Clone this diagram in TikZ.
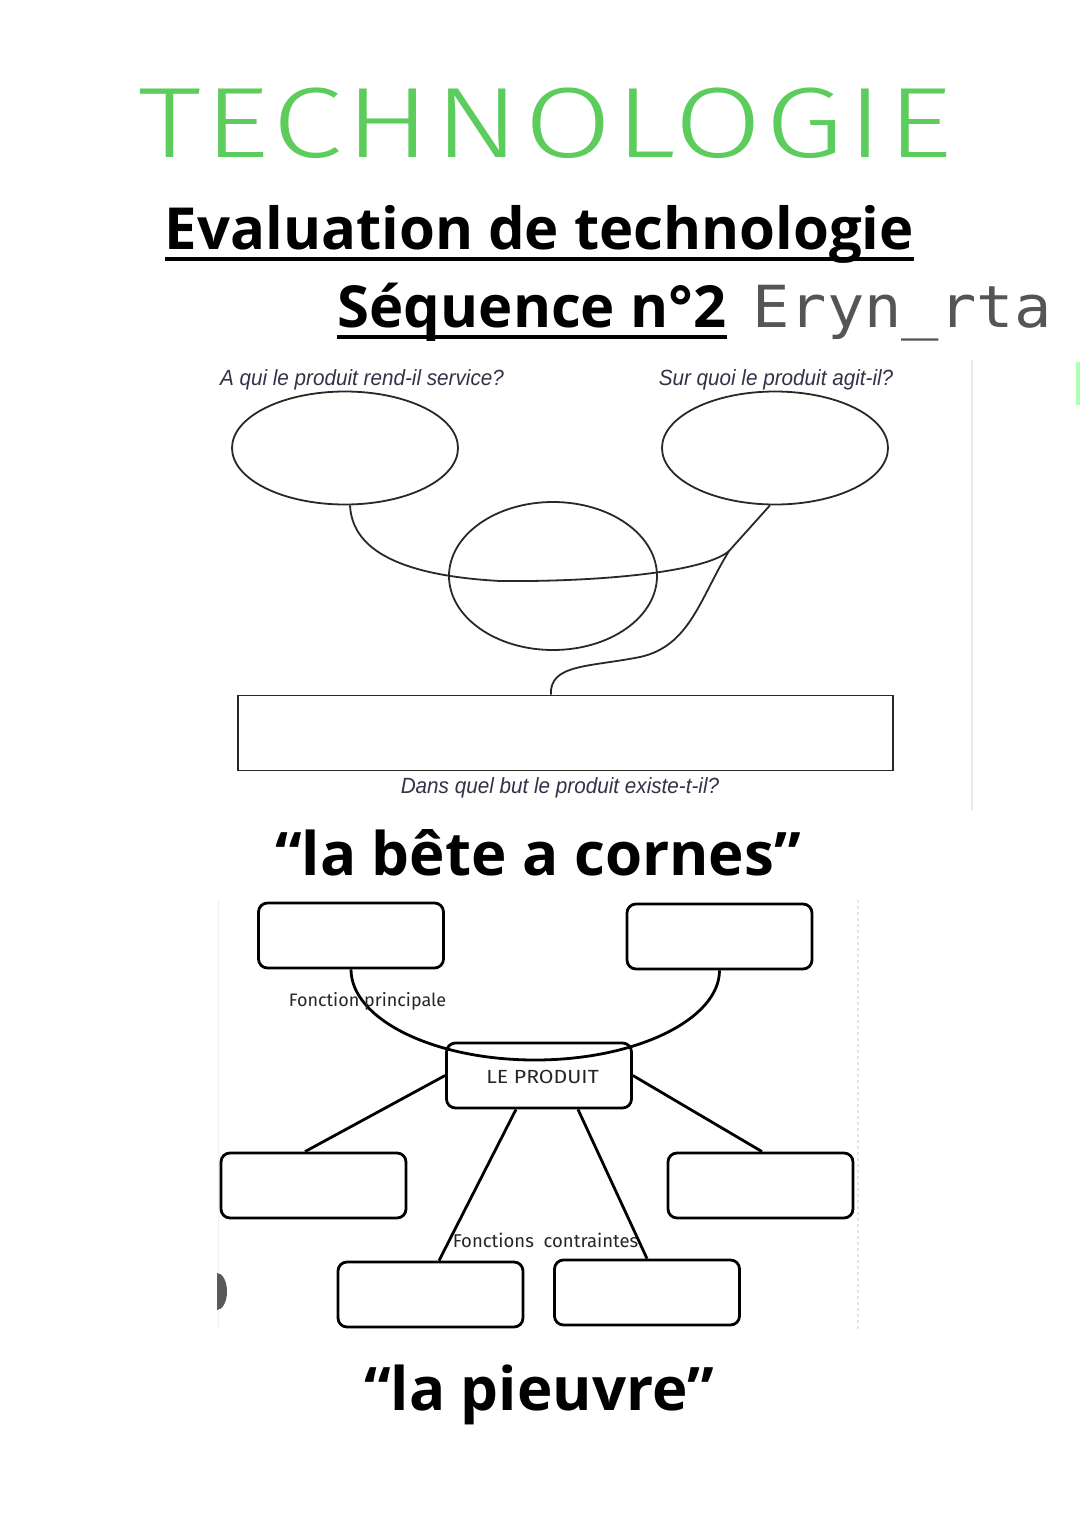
\documentclass[tikz,border=0pt]{standalone}
\usepackage{fontspec}
\setmainfont{Liberation Sans}
\newfontfamily\titlef{Fira Sans}[UprightFont={* Light}, LetterSpace=3]
\newfontfamily\headf{Open Sans}
\newfontfamily\monof{DejaVu Sans Mono}
\newfontfamily\labf{Liberation Sans}
\newfontfamily\comicf{Fira Sans}
\usetikzlibrary{shapes.geometric}
\definecolor{tgreen}{RGB}{92,204,92}
\definecolor{labc}{RGB}{50,50,72}
\definecolor{lineg}{RGB}{40,40,40}
\definecolor{sigc}{RGB}{85,85,85}
\tikzset{
  ell/.style={draw=lineg, line width=1.8pt, ellipse, inner sep=0pt},
  plainrect/.style={draw=lineg, line width=1.8pt, rectangle, inner sep=0pt},
  conn/.style={draw=lineg, line width=1.8pt},
  qlabel/.style={text=labc, inner sep=0pt, font=\labf\itshape\fontsize{22}{22}\selectfont},
  rbox/.style={draw=black, line width=2.8pt, rounded corners=9pt, minimum width=185pt, minimum height=65pt, inner sep=0pt},
  pconn/.style={draw=black, line width=2.8pt},
  clabel/.style={inner sep=0pt, text=black!85, font=\comicf\fontsize{18.5}{18.5}\selectfont},
  heading/.style={anchor=base, inner sep=0pt, font=\headf\bfseries\fontsize{58}{58}\selectfont},
  bigheading/.style={anchor=base, inner sep=0pt, font=\headf\bfseries\fontsize{60}{60}\selectfont},
  faint/.style={draw=black!8, line width=1.5pt}
}
\begin{document}
\begin{tikzpicture}[x=1pt,y=-1pt]
\useasboundingbox (0,0) rectangle (1080,1528);
\fill[white] (0,0) rectangle (1080,1528);

% title
\node[anchor=base west, inner sep=0pt, text=tgreen] (title) at (138,157)
  {\titlef\fontsize{100}{100}\selectfont\scalebox{1.27}[1]{TECHNOLOGIE}};
\node[heading] (eval) at (539.5,249) {Evaluation de technologie};
\draw[line width=4pt] ([yshift=-10pt]eval.base west) -- ([yshift=-10pt]eval.base east);
\node[heading] (seq) at (532,327) {Séquence n°2};
\draw[line width=4pt] ([yshift=-10pt]seq.base west) -- ([yshift=-10pt]seq.base east);
\node[anchor=base, inner sep=0pt, text=sigc] (sig) at (902,327)
  {\monof\fontsize{58}{58}\selectfont\scalebox{1.07}[1]{Eryn\_rta}};

% faint page edges
\draw[faint] (972,360) -- (972,810);
\fill[green!60!white, opacity=0.5] (1076,362) rectangle (1080,405);

% bete a cornes
\node[ell, minimum width=226pt, minimum height=113pt] (e1) at (345,448) {};
\node[ell, minimum width=226pt, minimum height=113pt] (e2) at (775,448) {};
\node[ell, minimum width=208pt, minimum height=148pt] (e3) at (553,576) {};
\node[plainrect, minimum width=655pt, minimum height=75pt] (r) at (565.5,733) {};
\node[qlabel] (q1) at (362,380) {\scalebox{0.94}[1]{A qui le produit rend-il service?}};
\node[qlabel] (q2) at (776,380) {\scalebox{0.94}[1]{Sur quoi le produit agit-il?}};
\node[qlabel] (q3) at (560,788) {\scalebox{0.94}[1]{Dans quel but le produit existe-t-il?}};
\coordinate (j) at (729,551);
\coordinate (rt) at ([xshift=-14.5pt]r.north);
\draw[conn] (e1.275) .. controls (352,545) and (390,575) .. (500,581)
  .. controls (600,582) and (705,572) .. (j);
\draw[conn] (e2.265) -- (j) .. controls (700,598) and (690,646) .. (640,657)
  .. controls (590,667) and (549,664) .. (rt);

\node[bigheading] (t1) at (538,875) {“la bête a cornes”};

% pieuvre
\draw[draw=black!6, line width=1pt] (218,900) -- (218,1330);
\draw[draw=black!10, line width=1.5pt, dashed] (858,900) -- (858,1330);
\fill[black!65] (217,1273) arc[start angle=-90, end angle=90, x radius=10pt, y radius=-18.5pt] -- cycle;

\node[rbox] (tl) at (351,935.5) {};
\node[rbox] (tr) at (719.5,936.5) {};
\node[rbox, fill=white] (prod) at (539,1075.5) {};
\node[rbox] (ml) at (313.5,1185.5) {};
\node[rbox] (mr) at (760.5,1185.5) {};
\node[rbox] (bl) at (430.5,1294.5) {};
\node[rbox] (br) at (647,1292.5) {};

\draw[pconn] (tl.south) .. controls (351,1018.8) and (433,1060) .. (535,1060)
  .. controls (637,1060) and (719.5,1018.8) .. (tr.south);
\draw[pconn] (prod.west) -- ([xshift=-8.5pt]ml.north);
\draw[pconn] (prod.east) -- ([xshift=1.5pt]mr.north);
\draw[pconn] ([xshift=-23pt]prod.south) -- ([xshift=8.5pt]bl.north);
\draw[pconn] ([xshift=39pt]prod.south) -- (br.north);

\node[clabel, font=\comicf\fontsize{18}{18}\selectfont] (fp) at (367.5,1001) {Fonction principale};
\node[clabel, font=\comicf\fontsize{19}{19}\selectfont] (lp) at (542.5,1077) {\scalebox{1.12}[1]{LE PRODUIT}};
\node[clabel] (fc) at (545.5,1240) {Fonctions\ \ contraintes};

\node[bigheading] (t2) at (539,1410) {“la pieuvre”};
\end{tikzpicture}
\end{document}
